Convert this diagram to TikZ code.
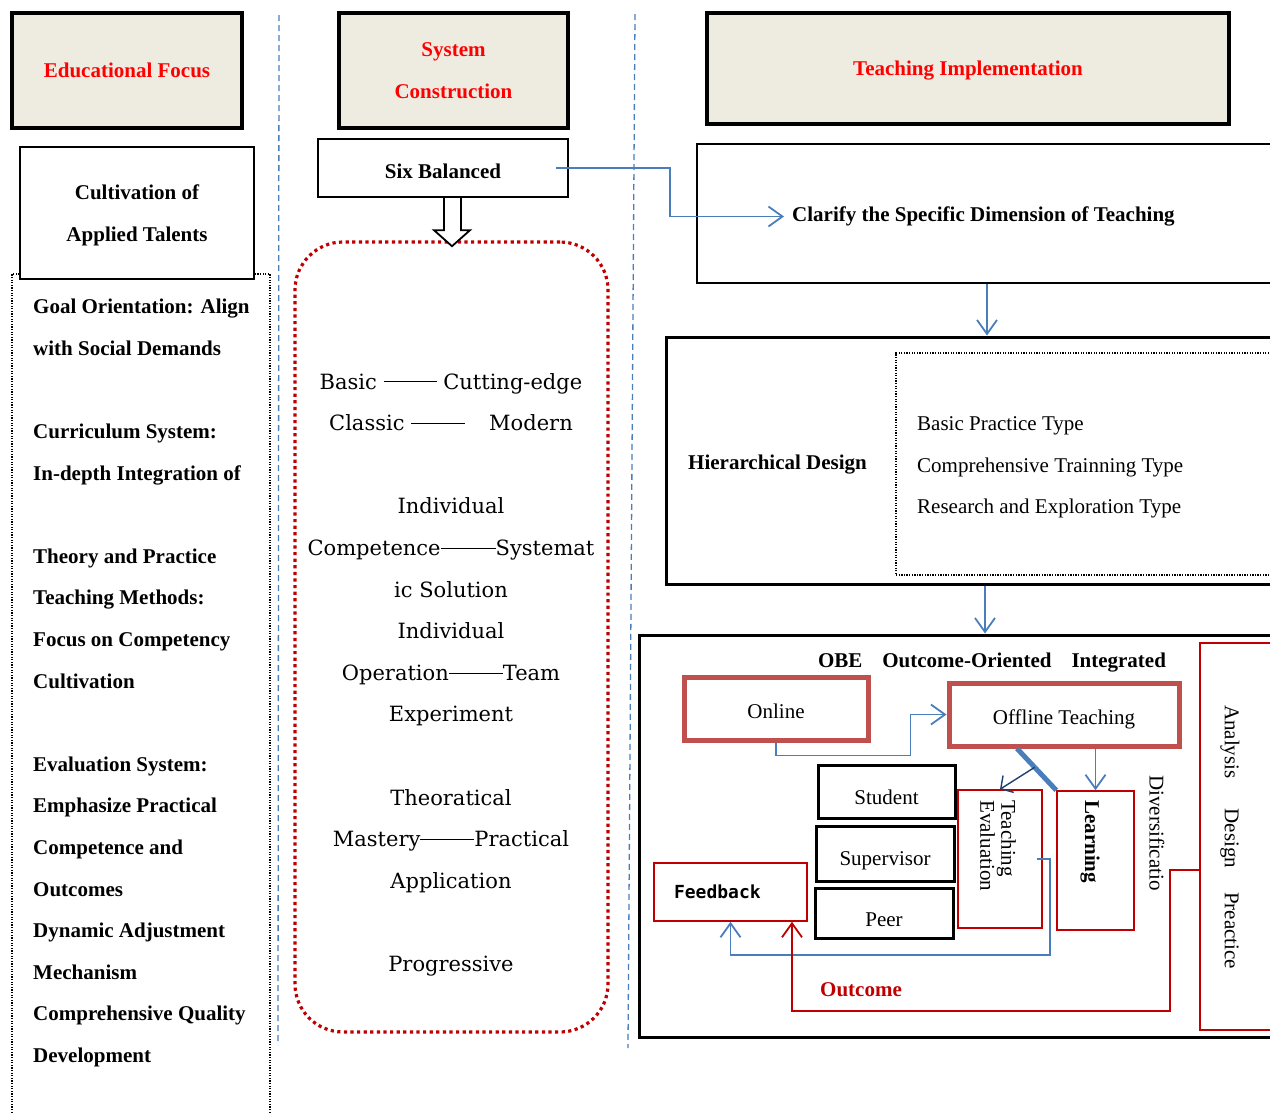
\documentclass[tikz,border=0pt]{standalone}
\usepackage{fontspec}
\setmainfont{Liberation Serif}
\newfontfamily\midfont{DejaVu Serif}
\newfontfamily\fbfont{DejaVu Sans Mono}
\usetikzlibrary{arrows.meta,positioning,calc}

\definecolor{hdrfill}{HTML}{EEECE1}
\definecolor{lineblue}{HTML}{4A7EBB}
\definecolor{darkblue}{HTML}{1F3F6E}
\definecolor{boxred}{HTML}{C0504D}
\definecolor{thinred}{HTML}{C00000}
\definecolor{headred}{HTML}{FF0000}

\newcommand\figfont{\fontsize{21}{41.6}\selectfont}
\newcommand\dline[1]{\rule[0.33em]{#1}{0.9pt}}

\tikzset{
  hdr/.style={draw, line width=4pt, fill=hdrfill, text=headred, font=\figfont\bfseries, align=center, inner sep=0pt, text depth=0pt},
  box/.style={draw, line width=2.4pt, align=center, inner sep=0pt, text depth=0pt},
  olbox/.style={draw=boxred, line width=5pt, font=\figfont, inner sep=0pt, text height=19pt, text depth=0pt},
  redbox/.style={draw=thinred, line width=1.5pt, inner sep=0pt},
  barrow/.style={draw=lineblue, line width=1.8pt, -{Straight Barb[length=14pt,width=20pt]}},
  rarrow/.style={barrow, draw=thinred},
  sep/.style={draw=lineblue, line width=1.3pt, dash pattern=on 6pt off 4pt},
}

\begin{document}
\begin{tikzpicture}[x=1pt,y=-1pt]
  \useasboundingbox (0,0) rectangle (1270,1112);
  \clip (0,0) rectangle (1270,1112);

  % column separators
  \coordinate (s1t) at (279,15);
  \coordinate (s1b) at (278,1045);
  \coordinate (s2t) at (635,14);
  \coordinate (s2b) at (628,1048);
  \draw[sep] (s1t) -- (s1b);
  \draw[sep] (s2t) -- (s2b);

  % headers
  \node[hdr, minimum width=230pt, minimum height=115pt] (focus) at (127,70.5) {Educational Focus};
  \node[hdr, minimum width=229pt, minimum height=115pt] (sys) at (453.5,70.5) {System\\Construction};
  \node[hdr, minimum width=522pt, minimum height=111pt] (impl) at (968,68.5) {Teaching Implementation};

  % left column
  \node[draw, line width=1.2pt, dash pattern=on 1.3pt off 1.3pt, minimum width=258pt, minimum height=846pt] (colbox) at (141,697) {};
  \node[box, fill=white, font=\figfont\bfseries, minimum width=234pt, minimum height=132pt] (talent) at (137,213) {Cultivation of\\Applied Talents};
  \node[anchor=north west, align=left, inner sep=0pt, font=\figfont\bfseries] (goals) at (33,299) {%
    Goal Orientation: Align\\
    with Social Demands\\[41.6pt]
    Curriculum System:\\
    In-depth Integration of\\[41.6pt]
    Theory and Practice\\
    Teaching Methods:\\
    Focus on Competency\\
    Cultivation\\[41.6pt]
    Evaluation System:\\
    Emphasize Practical\\
    Competence and\\
    Outcomes\\
    Dynamic Adjustment\\
    Mechanism\\
    Comprehensive Quality\\
    Development};

  % middle column
  \node[box, font=\figfont\bfseries, text height=20pt, minimum width=250pt, minimum height=58pt] (six) at (443,168) {Six Balanced};
  \node[draw=thinred, line width=3.2pt, dash pattern=on 3.2pt off 3.4pt, rounded corners=48pt,
        minimum width=313pt, minimum height=790pt] (bal) at (451.5,637) {};
  \draw[line width=1.8pt, fill=white] ([xshift=1pt]six.south) -- ++(0,32) -- ++(-10,0) -- ++(18,16)
        -- ++(18,-16) -- ++(-9,0) -- ++(0,-32);
  \node[anchor=north, align=center, inner sep=0pt, font=\midfont\figfont] (pairs) at (451,373) {%
    Basic \dline{53pt} Cutting-edge\\
    Classic \dline{54pt}\hspace{24pt}Modern\\[41.6pt]
    Individual\\
    Competence\dline{55pt}Systemat\\
    ic Solution\\
    Individual\\
    Operation\dline{54pt}Team\\
    Experiment\\[41.6pt]
    Theoratical\\
    Mastery\dline{54pt}Practical\\
    Application\\[41.6pt]
    Progressive};

  % right column
  \node[draw, line width=2.6pt, minimum width=593pt, minimum height=139pt] (clar) at (993.5,213.5) {};
  \node[anchor=west, inner sep=0pt, font=\figfont\bfseries] (clartxt) at (792,216.5) {Clarify the Specific Dimension of Teaching};
  \draw[barrow] ([xshift=-13pt]six.east) -- ++(114,0) |- ([xshift=-8pt]clartxt.west);

  \node[draw, line width=3pt, minimum width=624pt, minimum height=247pt] (hier) at (978,460.5) {};
  \node[anchor=west, inner sep=0pt, font=\figfont\bfseries] (hiertxt) at (688,465) {Hierarchical Design};
  \node[draw, line width=1.2pt, dash pattern=on 1.3pt off 1.3pt, minimum width=394pt, minimum height=222pt] (types) at (1093,464) {};
  \node[anchor=west, align=left, inner sep=0pt, font=\figfont] (typetxt) at (917,467.5) {%
    Basic Practice Type\\
    Comprehensive Trainning Type\\
    Research and Exploration Type};
  \draw[barrow] ([xshift=-6.5pt]clar.south) -- ([xshift=-6.5pt]clar.south |- hier.north);

  \node[draw, line width=3pt, minimum width=651pt, minimum height=402pt] (obe) at (964.5,836) {};
  \draw[barrow] ([xshift=7pt]hier.south) -- ([xshift=7pt]hier.south |- obe.north);
  \node[inner sep=0pt, font=\figfont\bfseries] (obetxt) at (992,663) {OBE\hspace{20pt}Outcome-Oriented\hspace{20pt}Integrated};

  \node[olbox, minimum width=184pt, minimum height=63pt] (online) at (776,708.5) {Online};
  \node[olbox, minimum width=230pt, minimum height=63pt] (offline) at (1064,714.5) {Offline Teaching};
  \draw[barrow] (online.south) -- ++(0,13) -| ([xshift=-36pt]offline.west) -- (offline.west);

  \node[box, line width=3pt, font=\figfont, text height=25pt, minimum width=137pt, minimum height=53pt] (student) at (886.5,791.5) {Student};
  \node[box, line width=3pt, font=\figfont, text height=23pt, minimum width=138pt, minimum height=55pt] (super) at (885,853.5) {Supervisor};
  \node[box, line width=3pt, font=\figfont, text height=26pt, minimum width=138pt, minimum height=50pt] (peer) at (884,913) {Peer};

  \node[redbox, minimum width=84pt, minimum height=138pt] (te) at (1000,859) {};
  \node[rotate=-90, anchor=west, align=left, inner sep=0pt, font=\fontsize{21}{21}\selectfont] (tetxt) at (998,800) {Teaching\\Evaluation};
  \node[redbox, minimum width=77pt, minimum height=139pt] (learn) at (1095.5,860.5) {};
  \node[rotate=-90, anchor=west, inner sep=0pt, font=\figfont\bfseries] (learntxt) at (1090,800) {Learning};
  \node[rotate=-90, anchor=west, inner sep=0pt, font=\figfont] (divtxt) at (1157,775) {Diversificatio};

  \node[redbox, minimum width=90pt, minimum height=387pt] (ana) at (1245,836.5) {};
  \node[rotate=-90, inner sep=0pt, font=\figfont] (anatxt) at (1230,837) {Analysis\hspace{30pt}Design\hspace{24pt}Preactice};

  \node[redbox, minimum width=153pt, minimum height=58pt, text width=113pt, inner xsep=20pt, align=left, text depth=0pt,
        font=\fbfont\fontsize{18}{20}\selectfont\bfseries] (fb) at (730.5,892) {Feedback};

  \draw[line width=5pt, lineblue] ([xshift=-47pt]offline.south) -- (learn.north west);
  \coordinate (diag) at ($([xshift=-47pt]offline.south)!0.45!(learn.north west)$);
  \draw[draw=darkblue, line width=1.4pt, -{Straight Barb[length=9pt,width=20pt]}] (diag) -- (te.north);
  \draw[barrow] (learn.north |- offline.south) -- (learn.north);

  \draw[barrow] ([xshift=-6pt]te.east) -- ++(13,0) -- ++(0,96) -| (fb.south);
  \draw[rarrow] ([yshift=-33.5pt]ana.west) -- ++(-29,0) -- ++(0,141) -| ([xshift=61.5pt]fb.south);
  \node[inner sep=0pt, text=thinred, font=\figfont\bfseries] (outtxt) at (861,990) {Outcome};
\end{tikzpicture}
\end{document}
